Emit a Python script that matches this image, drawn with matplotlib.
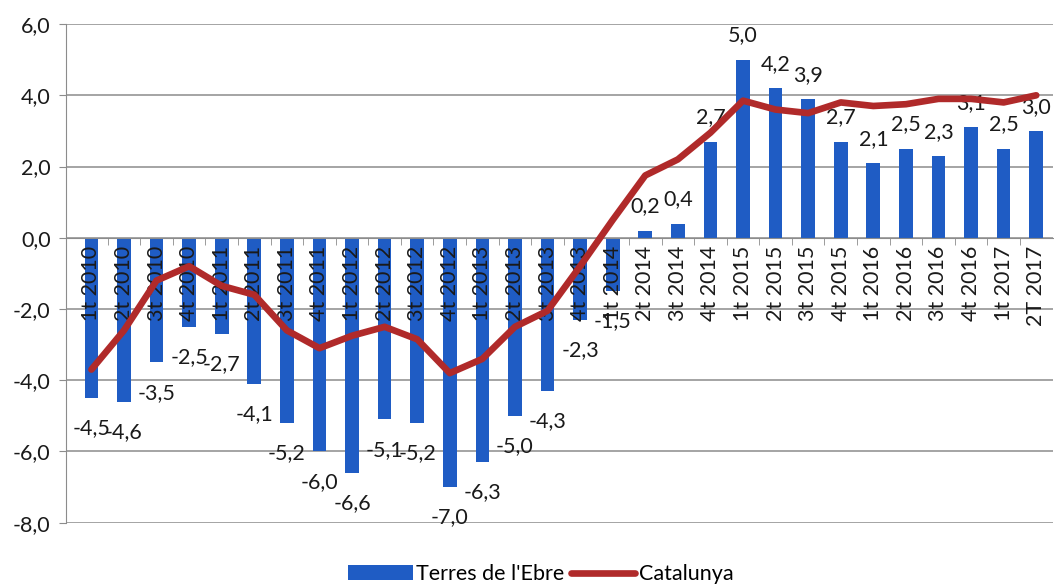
import matplotlib
matplotlib.use("Agg")
import matplotlib.pyplot as plt
import numpy as np

categories = ["1t 2010", "2t 2010", "3t 2010", "4t 2010",
              "1t 2011", "2t 2011", "3t 2011", "4t 2011",
              "1t 2012", "2t 2012", "3t 2012", "4t 2012",
              "1t 2013", "2t 2013", "3t 2013", "4t 2013",
              "1t 2014", "2t 2014", "3t 2014", "4t 2014",
              "1t 2015", "2t 2015", "3t 2015", "4t 2015",
              "1t 2016", "2t 2016", "3t 2016", "4t 2016",
              "1t 2017", "2T 2017"]
terres_ebre = [-4.5, -4.6, -3.5, -2.5, -2.7, -4.1, -5.2, -6.0, -6.6, -5.1,
               -5.2, -7.0, -6.3, -5.0, -4.3, -2.3, -1.5, 0.2, 0.4, 2.7,
               5.0, 4.2, 3.9, 2.7, 2.1, 2.5, 2.3, 3.1, 2.5, 3.0]
catalunya = [-3.7, -2.6, -1.2, -0.8, -1.35, -1.6, -2.6, -3.1, -2.75, -2.5,
             -2.85, -3.8, -3.4, -2.5, -2.05, -0.8, 0.5, 1.75, 2.2, 2.95,
             3.85, 3.6, 3.5, 3.8, 3.7, 3.75, 3.9, 3.9, 3.8, 4.0]
yticks = [-8, -6, -4, -2, 0, 2, 4, 6]
ytick_labels = ["-8,0", "-6,0", "-4,0", "-2,0", "0,0", "2,0", "4,0", "6,0"]
series_names = ["Terres de l'Ebre", "Catalunya"]

plt.rcParams['font.family'] = ['Lato', 'DejaVu Sans']
FS = 15.5

fig = plt.figure(figsize=(10.54, 5.87), dpi=100)
ax = fig.add_axes([0.0626, 0.1095, 0.936, 0.8495])

x = np.arange(len(categories))
bar_color = '#1F5CC4'
line_color = '#B02A2A'
grid_color = '#8C8C8C'

ax.spines['bottom'].set_position(('data', 0))
ax.spines['bottom'].set_color(grid_color)
ax.spines['left'].set_color(grid_color)
ax.spines['top'].set_visible(False)
ax.spines['right'].set_visible(False)
ax.set_axisbelow(False)

ax.hlines(yticks, -0.78, 29.5, colors=grid_color, linewidth=1.1, zorder=0.5)
bars = ax.bar(x, terres_ebre, width=0.42, color=bar_color, zorder=2,
              label=series_names[0])
line, = ax.plot(x, catalunya, color=line_color, linewidth=4.8, zorder=4,
                solid_capstyle='round', solid_joinstyle='round',
                label=series_names[1])

for xi, v in zip(x, terres_ebre):
    txt = f"{v:.1f}".replace('.', ',')
    if v < 0:
        ax.text(xi, v - 0.85, txt, ha='center', va='center', fontsize=FS,
                color='#1a1a1a', zorder=3)
    else:
        ax.text(xi, v + 0.68, txt, ha='center', va='center', fontsize=FS,
                color='#1a1a1a', zorder=3)

ax.set_xlim(-0.78, 29.5)
ax.set_ylim(-8, 6)
ax.set_yticks(yticks)
ax.set_yticklabels(ytick_labels)
ax.set_xticks(x)
ax.set_xticklabels(categories)
ax.set_xticks(np.arange(0.5, 29.5, 1.0), minor=True)
ax.tick_params(axis='x', which='major', length=0, pad=6, labelrotation=90,
               labelsize=FS, labelcolor='#1a1a1a')
ax.tick_params(axis='x', which='minor', length=5, color=grid_color, direction='out')
ax.tick_params(axis='y', length=5, color=grid_color, pad=6, labelsize=FS,
               labelcolor='#1a1a1a')

fig.legend(handles=[bars, line], labels=series_names, loc='center',
           bbox_to_anchor=(0.513, 0.022), ncol=2, frameon=False,
           fontsize=FS, handlelength=3.0, handletextpad=0.15,
           columnspacing=0.3)

fig.savefig("out.png", dpi=100, facecolor='white')
